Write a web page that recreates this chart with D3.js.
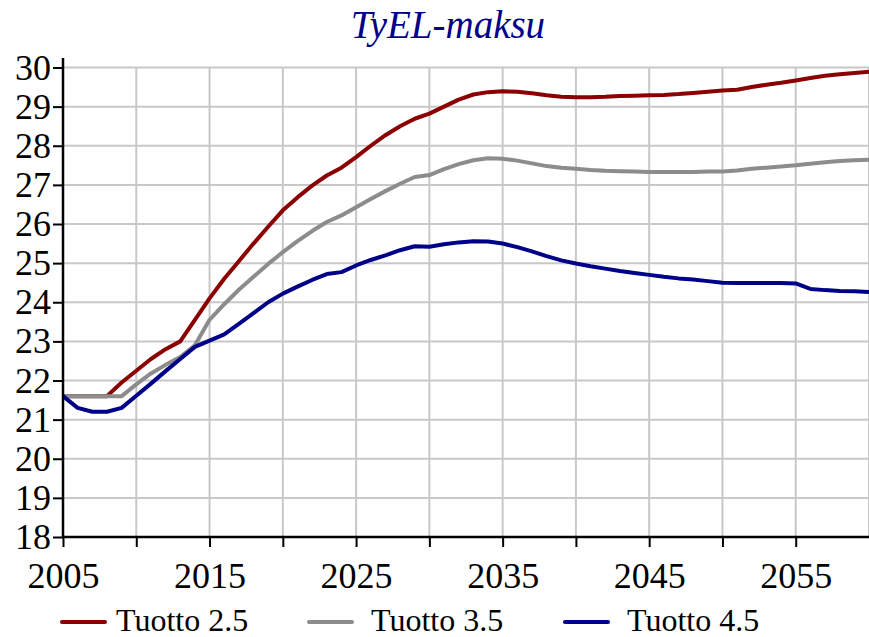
<!DOCTYPE html>
<html>
<head>
<meta charset="utf-8">
<script src="https://cdn.jsdelivr.net/npm/d3@7"></script>
<style>
  body { margin: 0; background: #fff; }
  svg text { font-family: "Liberation Serif", "Times New Roman", Times, "DejaVu Serif", serif !important; }
</style>
</head>
<body>
<div id="chart"></div>
<script>
// years 2005..2060
const years = d3.range(2005, 2061);

const tuotto25 = [
  21.6, 21.6, 21.6, 21.6, 21.95, 22.25, 22.55, 22.8, 23.0, 23.55,
  24.1, 24.6, 25.05, 25.5, 25.93, 26.35, 26.68, 26.98, 27.24, 27.44,
  27.71, 28.0, 28.27, 28.5, 28.69, 28.82, 29.0, 29.18, 29.31, 29.37,
  29.39, 29.38, 29.34, 29.29, 29.25, 29.24, 29.24, 29.25, 29.27, 29.28,
  29.29, 29.3, 29.32, 29.35, 29.38, 29.41, 29.43, 29.5, 29.56, 29.61,
  29.67, 29.73, 29.79, 29.83, 29.86, 29.89
];
const tuotto35 = [
  21.6, 21.6, 21.6, 21.6, 21.6, 21.9, 22.18, 22.4, 22.6, 22.9,
  23.55, 23.95, 24.32, 24.65, 24.98, 25.28, 25.56, 25.82, 26.05, 26.22,
  26.43, 26.64, 26.84, 27.03, 27.2, 27.25, 27.4, 27.53, 27.63, 27.68,
  27.67, 27.62, 27.55, 27.48, 27.44, 27.41, 27.38, 27.36, 27.35, 27.34,
  27.33, 27.33, 27.33, 27.33, 27.34, 27.34, 27.37, 27.41, 27.44, 27.47,
  27.5, 27.54, 27.58, 27.61, 27.63, 27.64
];
const tuotto45 = [
  21.6, 21.3, 21.2, 21.2, 21.3, 21.61, 21.92, 22.24, 22.55, 22.86,
  23.02, 23.18, 23.45, 23.72, 24.0, 24.22, 24.4, 24.57, 24.72, 24.77,
  24.94, 25.08, 25.2, 25.33, 25.43, 25.42, 25.48, 25.53, 25.56, 25.55,
  25.5, 25.41, 25.3, 25.18, 25.07, 24.99, 24.92, 24.86, 24.8, 24.75,
  24.7, 24.65, 24.61, 24.58, 24.54, 24.5, 24.49, 24.49, 24.49, 24.49,
  24.48, 24.34, 24.31, 24.29, 24.28, 24.26
];

const seriesNames = ["Tuotto 2.5", "Tuotto 3.5", "Tuotto 4.5"];
const seriesColors = ["#8b0000", "#8c8c8c", "#000088"];
const seriesValues = [tuotto25, tuotto35, tuotto45];

const yTicks = d3.range(18, 31);
const xLabelTicks = [2005, 2015, 2025, 2035, 2045, 2055];
const xGridTicks = d3.range(2005, 2061, 5);

const width = 869, height = 637;
const margin = { top: 67.5, right: 0, bottom: 100, left: 63 };
const serif = '"Liberation Serif", "Times New Roman", Times, serif';

const svg = d3.select("#chart").append("svg")
  .attr("width", width)
  .attr("height", height)
  .attr("font-family", serif);

const x = d3.scaleLinear().domain([2005, 2060]).range([margin.left, width - margin.right]);
const y = d3.scaleLinear().domain([18, 30]).range([537, margin.top]);

// title
svg.append("text")
  .attr("x", 448)
  .attr("y", 38)
  .attr("text-anchor", "middle")
  .style("font-style", "italic")
  .style("font-size", "39px")
  .style("fill", "#000088")
  .text("TyEL-maksu");

// grid
const grid = svg.append("g").attr("stroke", "#c8c8c8").attr("stroke-width", 2);
grid.selectAll("line.h").data(yTicks.slice(1)).join("line")
  .attr("x1", x(2005)).attr("x2", x(2060))
  .attr("y1", d => y(d)).attr("y2", d => y(d));
grid.selectAll("line.v").data(xGridTicks.slice(1)).join("line")
  .attr("x1", d => x(d)).attr("x2", d => x(d))
  .attr("y1", y(18)).attr("y2", y(30));

// lines
const line = d3.line()
  .x((d, i) => x(years[i]))
  .y(d => y(d));

svg.append("g").selectAll("path").data(seriesValues).join("path")
  .attr("d", d => line(d))
  .attr("fill", "none")
  .attr("stroke", (d, i) => seriesColors[i])
  .attr("stroke-width", 4)
  .attr("stroke-linejoin", "round");

// axes
const yAxis = svg.append("g")
  .attr("transform", `translate(${margin.left},0)`)
  .call(d3.axisLeft(y).tickValues(yTicks).tickSize(10).tickPadding(2).tickFormat(d3.format("d")));
yAxis.attr("font-family", serif).attr("font-size", 36);
yAxis.select(".domain").remove();
yAxis.selectAll(".tick line").attr("stroke", "#000").attr("stroke-width", 2);
yAxis.selectAll(".tick text").attr("fill", "#000");

const xAxis = svg.append("g")
  .attr("transform", `translate(0,${y(18)})`)
  .call(d3.axisBottom(x).tickValues(xGridTicks.slice(0, -1)).tickSize(10).tickPadding(15)
    .tickFormat(d => xLabelTicks.includes(d) ? d : ""));
xAxis.attr("font-family", serif).attr("font-size", 36);
xAxis.select(".domain").remove();
xAxis.selectAll(".tick line").attr("stroke", "#000").attr("stroke-width", 2);
xAxis.selectAll(".tick text").attr("fill", "#000");

// axis lines
svg.append("line")
  .attr("x1", margin.left).attr("x2", margin.left)
  .attr("y1", 58).attr("y2", y(18) + 1)
  .attr("stroke", "#000").attr("stroke-width", 2.5);
svg.append("line")
  .attr("x1", margin.left).attr("x2", width)
  .attr("y1", y(18)).attr("y2", y(18))
  .attr("stroke", "#000").attr("stroke-width", 2.5);

// legend
const legendLineX = [62, 309, 565];
const legendTextX = [116, 371, 627];
const legend = svg.append("g").selectAll("g").data(seriesNames).join("g");
legend.append("line")
  .attr("x1", (d, i) => legendLineX[i]).attr("x2", (d, i) => legendLineX[i] + 43)
  .attr("y1", 622).attr("y2", 622)
  .attr("stroke", (d, i) => seriesColors[i])
  .attr("stroke-width", 4)
  .attr("stroke-linecap", "round");
legend.append("text")
  .attr("x", (d, i) => legendTextX[i]).attr("y", 631)
  .style("font-size", "32px")
  .text(d => d);
</script>
</body>
</html>
